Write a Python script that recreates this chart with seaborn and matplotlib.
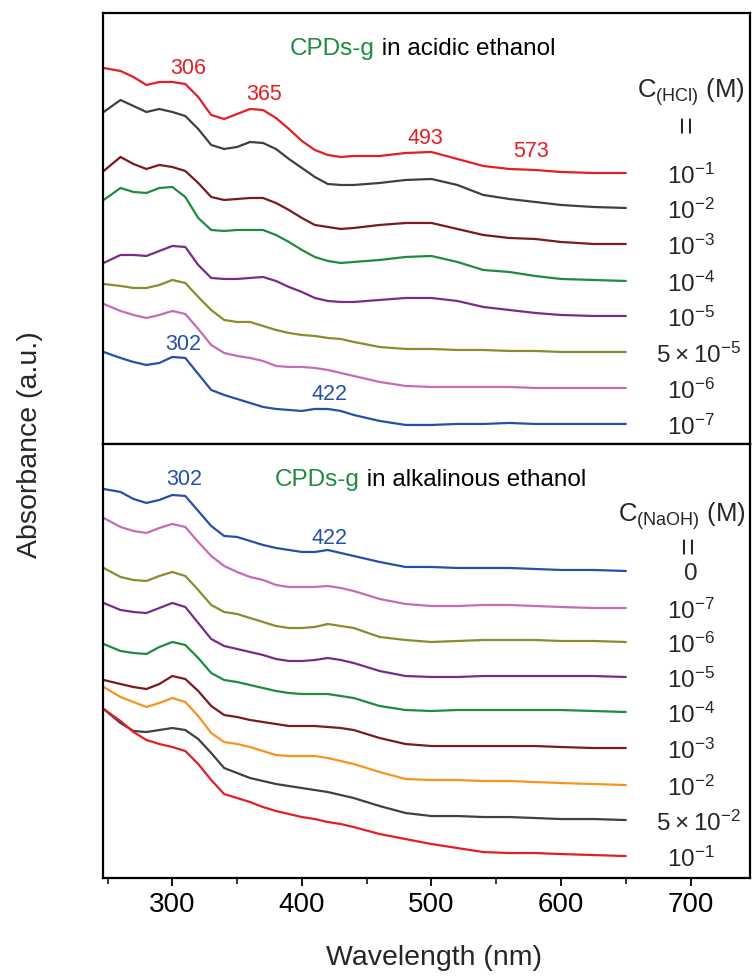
import matplotlib
matplotlib.use("Agg")
import matplotlib.pyplot as plt
from matplotlib.ticker import MultipleLocator
import pandas as pd
import seaborn as sns

sns.set_theme(style="ticks")
plt.rcParams["font.family"] = ["Liberation Sans", "DejaVu Sans"]

# ---------------- data ----------------
wavelength = [247, 260, 270, 280, 290, 300, 310, 320, 330, 340, 350, 360, 370, 380, 390,
              400, 410, 420, 430, 440, 460, 480, 500, 520, 540, 560, 580, 600, 625, 650]

# acidic ethanol, C(HCl) in M (offset spectra, a.u.)
acid_labels = ["10^{-1}", "10^{-2}", "10^{-3}", "10^{-4}", "10^{-5}",
               "5\\times10^{-5}", "10^{-6}", "10^{-7}"]
acid_colors = ["#e31e24", "#404040", "#7a1a1e", "#1e8b3e", "#7b2a8c",
               "#8b8b2b", "#c66bb5", "#2650a8"]
hcl_1e1 = [3.76, 3.73, 3.67, 3.59, 3.62, 3.62, 3.60, 3.47, 3.29, 3.25, 3.30, 3.35, 3.34, 3.26, 3.15,
           3.03, 2.94, 2.89, 2.87, 2.88, 2.88, 2.91, 2.92, 2.85, 2.78, 2.75, 2.74, 2.72, 2.71, 2.71]
hcl_1e2 = [3.32, 3.44, 3.38, 3.32, 3.35, 3.32, 3.28, 3.15, 2.99, 2.95, 2.97, 3.02, 3.01, 2.95, 2.85,
           2.76, 2.67, 2.60, 2.59, 2.59, 2.61, 2.64, 2.65, 2.59, 2.49, 2.45, 2.42, 2.39, 2.37, 2.36]
hcl_1e3 = [2.73, 2.87, 2.80, 2.75, 2.79, 2.77, 2.73, 2.61, 2.47, 2.44, 2.45, 2.46, 2.46, 2.41, 2.34,
           2.26, 2.19, 2.17, 2.15, 2.16, 2.19, 2.21, 2.21, 2.15, 2.09, 2.06, 2.05, 2.02, 2.00, 2.00]
hcl_1e4 = [2.44, 2.56, 2.52, 2.51, 2.56, 2.57, 2.47, 2.26, 2.14, 2.13, 2.14, 2.14, 2.14, 2.09, 2.02,
           1.94, 1.87, 1.83, 1.81, 1.82, 1.84, 1.87, 1.88, 1.82, 1.74, 1.72, 1.68, 1.65, 1.64, 1.63]
hcl_1e5 = [1.81, 1.89, 1.89, 1.88, 1.93, 1.98, 1.97, 1.79, 1.66, 1.65, 1.65, 1.66, 1.67, 1.63, 1.57,
           1.52, 1.46, 1.43, 1.42, 1.42, 1.44, 1.46, 1.46, 1.43, 1.37, 1.34, 1.31, 1.29, 1.28, 1.28]
hcl_5e5 = [1.60, 1.58, 1.56, 1.56, 1.59, 1.64, 1.61, 1.47, 1.34, 1.24, 1.22, 1.22, 1.18, 1.14, 1.11,
           1.09, 1.08, 1.06, 1.05, 1.02, 0.97, 0.95, 0.95, 0.94, 0.94, 0.93, 0.93, 0.92, 0.92, 0.92]
hcl_1e6 = [1.40, 1.33, 1.29, 1.26, 1.29, 1.33, 1.30, 1.15, 0.99, 0.91, 0.88, 0.86, 0.83, 0.78, 0.77,
           0.77, 0.76, 0.74, 0.71, 0.68, 0.62, 0.58, 0.57, 0.57, 0.57, 0.57, 0.56, 0.56, 0.56, 0.56]
hcl_1e7 = [0.92, 0.86, 0.82, 0.79, 0.81, 0.87, 0.86, 0.70, 0.54, 0.49, 0.45, 0.41, 0.37, 0.35, 0.34,
           0.33, 0.35, 0.35, 0.33, 0.29, 0.23, 0.19, 0.19, 0.20, 0.20, 0.21, 0.20, 0.20, 0.20, 0.20]
acid_spectra = [hcl_1e1, hcl_1e2, hcl_1e3, hcl_1e4, hcl_1e5, hcl_5e5, hcl_1e6, hcl_1e7]

# alkalinous ethanol, C(NaOH) in M (offset spectra, a.u.)
base_labels = ["0", "10^{-7}", "10^{-6}", "10^{-5}", "10^{-4}", "10^{-3}", "10^{-2}",
               "5\\times10^{-2}", "10^{-1}"]
base_colors = ["#2650a8", "#c66bb5", "#8b8b2b", "#7b2a8c", "#1e8b3e", "#7a1a1e",
               "#f7941d", "#404040", "#e31e24"]
naoh_0 = [3.89, 3.86, 3.79, 3.75, 3.78, 3.83, 3.82, 3.67, 3.52, 3.42, 3.41, 3.37, 3.33, 3.30, 3.28,
          3.26, 3.26, 3.28, 3.25, 3.22, 3.16, 3.11, 3.11, 3.10, 3.10, 3.10, 3.09, 3.08, 3.08, 3.07]
naoh_1e7 = [3.60, 3.51, 3.47, 3.45, 3.50, 3.54, 3.51, 3.36, 3.22, 3.12, 3.06, 3.01, 2.98, 2.93, 2.91,
            2.91, 2.91, 2.92, 2.90, 2.87, 2.79, 2.74, 2.72, 2.72, 2.73, 2.73, 2.72, 2.71, 2.70, 2.70]
naoh_1e6 = [3.10, 3.01, 2.98, 2.97, 3.02, 3.06, 3.02, 2.88, 2.73, 2.66, 2.64, 2.60, 2.56, 2.52, 2.50,
            2.50, 2.51, 2.54, 2.52, 2.50, 2.41, 2.38, 2.36, 2.37, 2.38, 2.38, 2.38, 2.37, 2.37, 2.36]
naoh_1e5 = [2.75, 2.68, 2.66, 2.65, 2.70, 2.75, 2.71, 2.55, 2.39, 2.32, 2.29, 2.26, 2.23, 2.19, 2.17,
            2.17, 2.18, 2.20, 2.18, 2.15, 2.07, 2.02, 2.01, 2.01, 2.02, 2.02, 2.02, 2.02, 2.02, 2.01]
naoh_1e4 = [2.34, 2.27, 2.25, 2.24, 2.31, 2.36, 2.33, 2.20, 2.05, 1.98, 1.96, 1.93, 1.90, 1.87, 1.85,
            1.84, 1.84, 1.84, 1.82, 1.80, 1.72, 1.68, 1.67, 1.68, 1.68, 1.68, 1.68, 1.68, 1.67, 1.66]
naoh_1e3 = [1.98, 1.94, 1.91, 1.89, 1.94, 2.02, 1.99, 1.87, 1.72, 1.63, 1.61, 1.58, 1.56, 1.54, 1.52,
            1.52, 1.52, 1.51, 1.50, 1.48, 1.40, 1.34, 1.32, 1.32, 1.32, 1.32, 1.32, 1.31, 1.30, 1.30]
naoh_1e2 = [1.91, 1.81, 1.76, 1.71, 1.75, 1.80, 1.76, 1.62, 1.45, 1.36, 1.34, 1.31, 1.27, 1.23, 1.22,
            1.22, 1.22, 1.20, 1.17, 1.14, 1.06, 0.99, 0.98, 0.98, 0.97, 0.97, 0.96, 0.95, 0.94, 0.93]
naoh_5e2 = [1.69, 1.55, 1.47, 1.46, 1.48, 1.50, 1.48, 1.39, 1.25, 1.10, 1.05, 1.00, 0.97, 0.94, 0.92,
            0.90, 0.88, 0.86, 0.83, 0.80, 0.72, 0.65, 0.62, 0.62, 0.61, 0.61, 0.60, 0.59, 0.59, 0.58]
naoh_1e1 = [1.69, 1.57, 1.46, 1.38, 1.34, 1.31, 1.27, 1.14, 0.98, 0.84, 0.80, 0.76, 0.71, 0.67, 0.64,
            0.61, 0.59, 0.56, 0.54, 0.51, 0.44, 0.39, 0.34, 0.30, 0.26, 0.25, 0.25, 0.24, 0.23, 0.22]
base_spectra = [naoh_0, naoh_1e7, naoh_1e6, naoh_1e5, naoh_1e4, naoh_1e3, naoh_1e2, naoh_5e2, naoh_1e1]

# peak annotations: (wavelength position, height, text, colour)
acid_peaks = [(312, 3.76, "306", "#e31e24"), (371, 3.505, "365", "#e31e24"),
              (495, 3.065, "493", "#e31e24"), (577, 2.93, "573", "#e31e24"),
              (308.5, 1.00, "302", "#2650a8"), (421, 0.50, "422", "#2650a8")]
base_peaks = [(309, 3.99, "302", "#2650a8"), (421, 3.405, "422", "#2650a8")]

GREEN = "#1e8b3e"


def long_form(spectra, labels):
    frames = []
    for lab, vals in zip(labels, spectra):
        frames.append(pd.DataFrame({"wavelength": wavelength, "absorbance": vals, "conc": lab}))
    return pd.concat(frames, ignore_index=True)


fig = plt.figure(figsize=(7.53, 9.79), dpi=100)
ax_top = fig.add_axes([0.1368, 0.5455, 0.8586, 0.4402])
ax_bot = fig.add_axes([0.1368, 0.1021, 0.8586, 0.4434])

panels = [
    (ax_top, acid_spectra, acid_labels, acid_colors, acid_peaks, 4.31,
     "in acidic ethanol", (391, 3.895), r"$\mathregular{C_{(HCl)}}$ (M)", (700, 3.53), (698, 3.21)),
    (ax_bot, base_spectra, base_labels, base_colors, base_peaks, 4.34,
     "in alkalinous ethanol", (379, 3.925), r"$\mathregular{C_{(NaOH)}}$ (M)", (693, 3.63), (699, 3.34)),
]

for ax, spectra, labels, colors, peaks, ytop, title, tpos, head, hpos, eqpos in panels:
    df = long_form(spectra, labels)
    sns.lineplot(data=df, x="wavelength", y="absorbance", hue="conc",
                 hue_order=labels, palette=dict(zip(labels, colors)),
                 estimator=None, sort=False, legend=False, linewidth=1.6, ax=ax)
    ax.set_xlim(246.5, 745.5)
    ax.set_ylim(0, ytop)
    ax.set_yticks([])
    ax.set_xlabel("")
    ax.set_ylabel("")
    for side in ["left", "right", "top", "bottom"]:
        ax.spines[side].set_visible(True)
        ax.spines[side].set_linewidth(1.6)
        ax.spines[side].set_color("black")

    for x, y, txt, c in peaks:
        ax.text(x, y, txt, color=c, fontsize=15.5, ha="center", va="center")

    t1 = ax.text(tpos[0], tpos[1], "CPDs-g", color=GREEN, fontsize=17.5, ha="left", va="baseline")
    ax.annotate(" " + title, xy=(1, 0), xycoords=t1, fontsize=17.5, color="black",
                ha="left", va="bottom")

    ax.text(hpos[0], hpos[1], head, fontsize=18.5, ha="center", va="center")
    ax.text(eqpos[0], eqpos[1], "=", fontsize=22, ha="center", va="center", rotation=90)

    for lab, vals in zip(labels, spectra):
        xl = 706 if "times" in lab else 700
        ax.text(xl, vals[-1] - 0.02, r"$\mathregular{" + lab + "}$", fontsize=17.5,
                ha="center", va="center")

ax_top.set_xticks([])
ax_bot.set_xticks([300, 400, 500, 600, 700])
ax_bot.xaxis.set_minor_locator(MultipleLocator(50))
ax_bot.tick_params(axis="x", which="major", direction="out", length=6, width=1.3,
                   labelsize=20, pad=3, bottom=True, colors="black")
ax_bot.tick_params(axis="x", which="minor", direction="out", length=4, width=1.3, bottom=True)

fig.text(30 / 753, 1 - 445 / 979, "Absorbance (a.u.)", rotation=90, fontsize=20.5,
         ha="center", va="center")
fig.text(434 / 753, 1 - 958 / 979, "Wavelength (nm)", fontsize=20.5, ha="center", va="center")

fig.savefig("out.png", dpi=100)
